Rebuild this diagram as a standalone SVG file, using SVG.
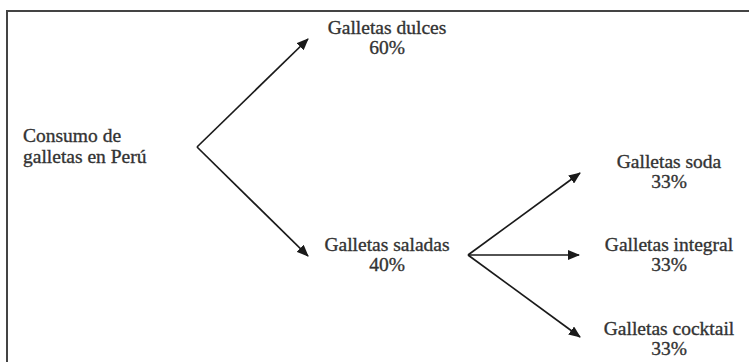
<svg xmlns="http://www.w3.org/2000/svg" width="749" height="362" viewBox="0 0 749 362">
<style>
text{font-family:"Liberation Serif","Times New Roman",serif;font-size:19.5px;fill:#333;stroke:#333;stroke-width:0.35}
.c{text-anchor:middle}
.e{stroke:#1a1a1a;stroke-width:1.7;fill:none;marker-end:url(#ah)}
</style>
<defs>
<marker id="ah" markerWidth="12" markerHeight="10" refX="11" refY="5" orient="auto" markerUnits="userSpaceOnUse">
<path d="M0,0 L12,5 L0,10 Z" fill="#1a1a1a"/>
</marker>
</defs>
<rect width="749" height="362" fill="#fff"/>
<path d="M7,370 V11 H760" stroke="#444" stroke-width="2" fill="none"/>
<g id="connectors">
<line class="e" x1="197" y1="147" x2="308" y2="39"/>
<line class="e" x1="197" y1="147" x2="308" y2="256"/>
<line class="e" x1="468" y1="255" x2="580" y2="173"/>
<line class="e" x1="468" y1="255" x2="579" y2="255"/>
<line class="e" x1="468" y1="255" x2="580" y2="337"/>
</g>
<g id="root"><text x="23" y="142">Consumo de</text><text x="23" y="163">galletas en Perú</text></g>
<g id="dulces"><text class="c" x="387" y="34">Galletas dulces</text><text class="c" x="387" y="54">60%</text></g>
<g id="saladas"><text class="c" x="387" y="251">Galletas saladas</text><text class="c" x="387" y="271">40%</text></g>
<g id="soda"><text class="c" x="669" y="168">Galletas soda</text><text class="c" x="669" y="188">33%</text></g>
<g id="integral"><text class="c" x="669" y="251">Galletas integral</text><text class="c" x="669" y="271">33%</text></g>
<g id="cocktail"><text class="c" x="669" y="335">Galletas cocktail</text><text class="c" x="669" y="355">33%</text></g>
</svg>
